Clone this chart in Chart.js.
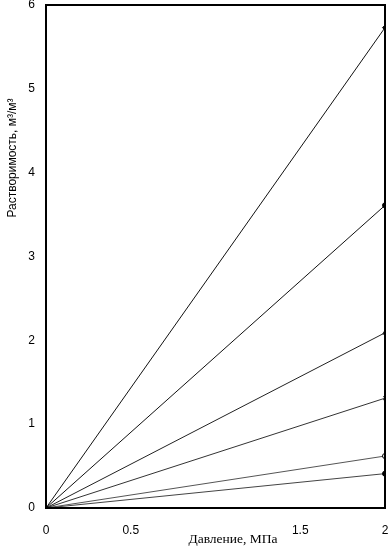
<!DOCTYPE html>
<html>
<head>
<meta charset="utf-8">
<script src="https://cdn.jsdelivr.net/npm/chart.js@4"></script>
<style>
  html, body { margin: 0; padding: 0; background: #fff; }
  #wrap { width: 391px; height: 553px; }
</style>
</head>
<body>
<div id="wrap"><canvas id="solChart" width="391" height="553"></canvas></div>
<script>
const pressure = [0, 2];
const line1 = [0, 5.73];
const line2 = [0, 3.61];
const line3 = [0, 2.09];
const line4 = [0, 1.31];
const line5 = [0, 0.62];
const line6 = [0, 0.41];
const xTicks = [0, 0.5, 1, 1.5, 2];
const yTicks = [0, 1, 2, 3, 4, 5, 6];
const xTitle = 'Давление, МПа';
const yTitle = 'Растворимость, м³/м³';

const sans = 'Liberation Sans';
const serif = 'Liberation Serif';

function toPoints(values) {
  return pressure.map((p, i) => ({ x: p, y: values[i] }));
}

function makeSet(values, style, filled, color) {
  return {
    data: toPoints(values),
    borderColor: color,
    borderWidth: 1,
    pointStyle: ['rect', style],
    pointRadius: [2, 2.5],
    pointBackgroundColor: filled ? '#000' : '#fff',
    pointBorderColor: '#000',
    pointBorderWidth: 1,
    tension: 0
  };
}

// frame round the plot plus the two axis titles, placed like the original
const frame = {
  id: 'frame',
  afterDraw(chart) {
    const { ctx, chartArea: a } = chart;
    ctx.save();
    ctx.strokeStyle = '#000';
    ctx.lineWidth = 2;
    ctx.strokeRect(a.left, a.top, a.right - a.left, a.bottom - a.top);

    ctx.fillStyle = '#000';
    ctx.textAlign = 'center';
    ctx.textBaseline = 'middle';
    ctx.font = '13.5px "' + serif + '"';
    ctx.fillText(xTitle, 233, 539);

    ctx.translate(13, 158);
    ctx.rotate(-Math.PI / 2);
    ctx.font = '12px "' + sans + '"';
    ctx.fillText(yTitle, 0, 0);
    ctx.restore();
  }
};

const ctx = document.getElementById('solChart').getContext('2d');
new Chart(ctx, {
  type: 'line',
  data: {
    datasets: [
      makeSet(line1, 'rectRot', true, '#111'),
      makeSet(line2, 'circle', true, '#111'),
      makeSet(line3, 'triangle', false, '#222'),
      makeSet(line4, 'crossRot', true, '#333'),
      makeSet(line5, 'circle', false, '#555'),
      makeSet(line6, 'circle', true, '#444')
    ]
  },
  options: {
    responsive: false,
    animation: false,
    layout: { padding: { top: 5, right: 6, left: 0, bottom: 0 } },
    plugins: { legend: { display: false }, tooltip: { enabled: false } },
    scales: {
      x: {
        type: 'linear',
        min: 0,
        max: 2,
        afterBuildTicks: axis => { axis.ticks = xTicks.map(v => ({ value: v })); },
        grid: { display: false, drawTicks: false },
        border: { display: false },
        ticks: {
          padding: 15,
          color: '#000',
          font: { family: sans, size: 12 },
          callback: v => (v === 1 ? '' : String(v))
        },
        afterFit: axis => {
          axis.height = 45;
          axis.paddingLeft = 0;
          axis.paddingRight = 0;
        }
      },
      y: {
        min: 0,
        max: 6,
        afterBuildTicks: axis => { axis.ticks = yTicks.map(v => ({ value: v })); },
        grid: { display: false, drawTicks: false },
        border: { display: false },
        ticks: {
          padding: 11,
          color: '#000',
          font: { family: sans, size: 12 },
          callback: v => String(v)
        },
        afterFit: axis => {
          axis.width = 46;
          axis.paddingTop = 0;
          axis.paddingBottom = 0;
        }
      }
    }
  },
  plugins: [frame]
});
</script>
</body>
</html>
